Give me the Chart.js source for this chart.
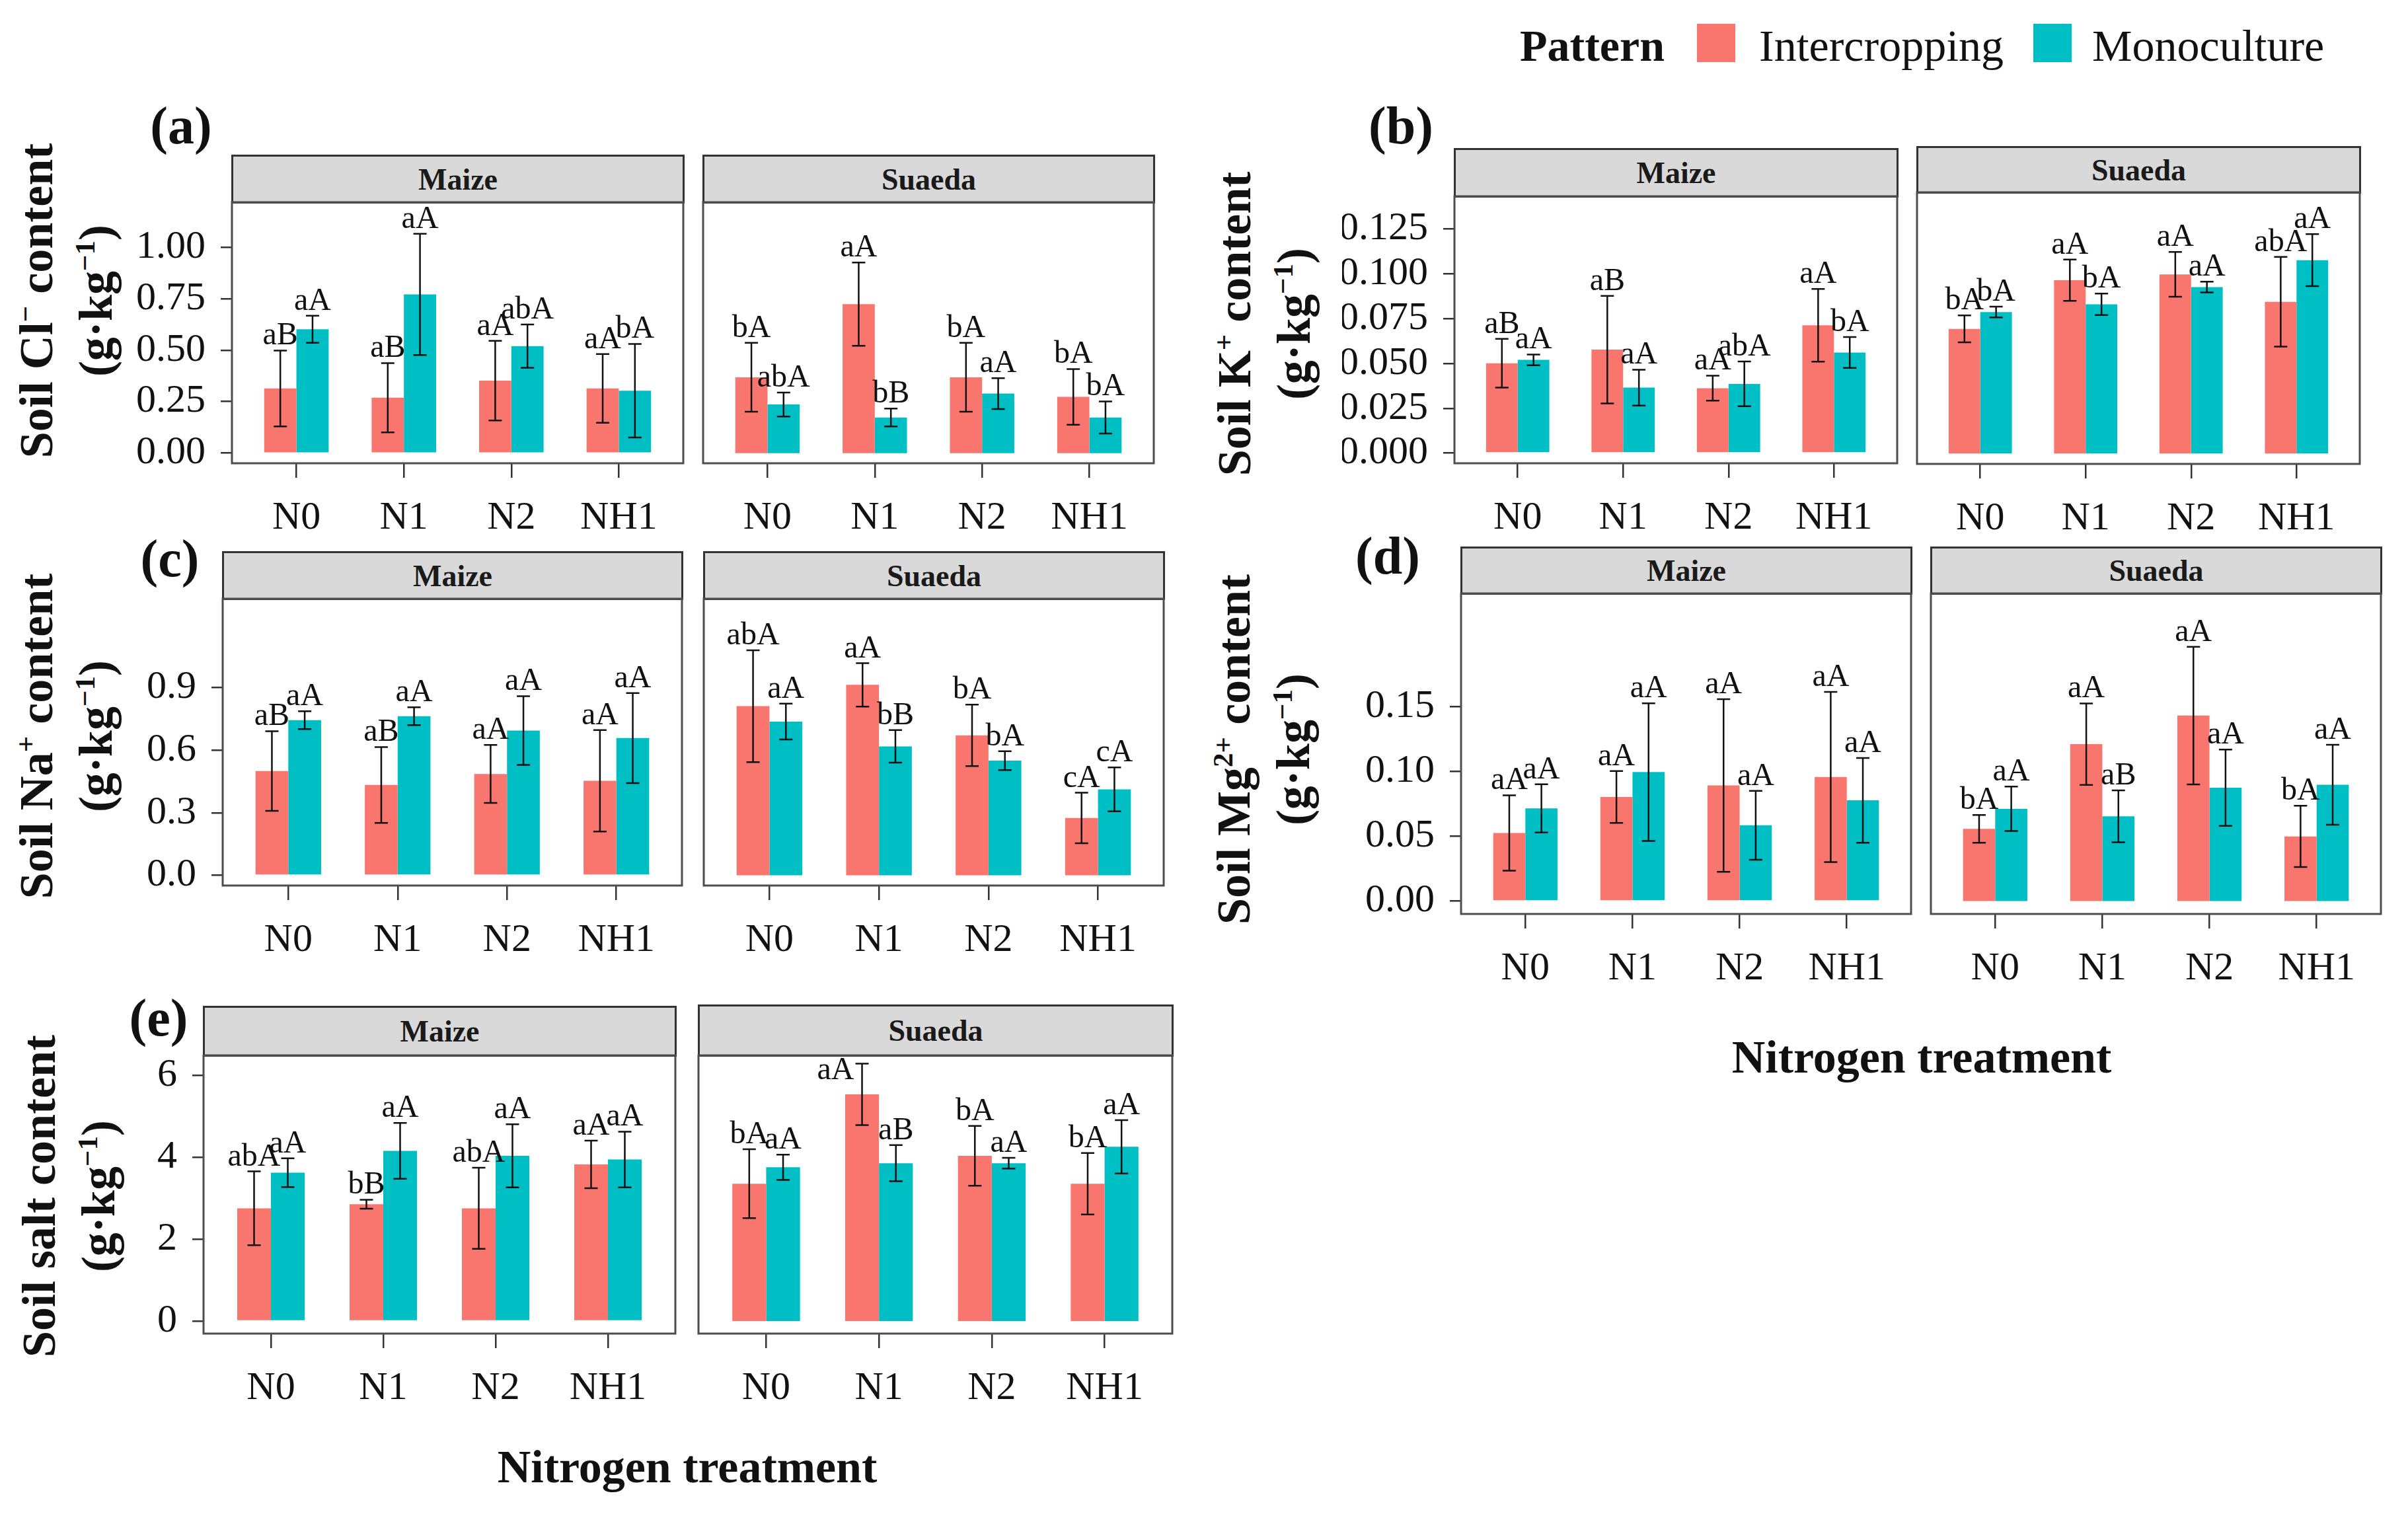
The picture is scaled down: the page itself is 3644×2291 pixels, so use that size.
<!DOCTYPE html>
<html><head><meta charset="utf-8">
<script src="https://cdn.jsdelivr.net/npm/chart.js@4.4.0/dist/chart.umd.min.js"></script>
<style>
body{margin:0;background:#fff;width:3644px;height:2291px;position:relative;overflow:hidden;font-family:"Liberation Serif","Times New Roman",serif;color:#111;}
canvas{position:absolute;}
.strip{position:absolute;box-sizing:border-box;background:#d9d9d9;border:3px solid #333;font-weight:bold;font-size:46px;display:flex;align-items:center;justify-content:center;color:#1a1a1a;}
.plab{position:absolute;font-weight:bold;font-size:80px;line-height:80px;transform:translate(-50%,-50%);white-space:nowrap;}
.ytitle{position:absolute;font-weight:bold;font-size:72px;line-height:90px;text-align:center;white-space:nowrap;transform:translate(-50%,-50%) rotate(-90deg);}
.ytitle sup{font-size:0.6em;line-height:0;vertical-align:0.6em;}
.xtitle{position:absolute;font-weight:bold;font-size:70px;line-height:70px;white-space:nowrap;transform:translate(-50%,-50%);}
.leg{position:absolute;font-size:68px;line-height:68px;white-space:nowrap;}
.key{position:absolute;width:58px;height:58px;}
</style></head>
<body>
<div id="root"></div>
<script>
// ---------------- DATA ----------------
const categories = ['N0', 'N1', 'N2', 'NH1'];
const seriesNames = ['Intercropping', 'Monoculture'];
const facetNames = ['Maize', 'Suaeda'];

// (a) Soil Cl- content
const clMaizeInt = [0.314, 0.269, 0.352, 0.314];
const clMaizeIntSE = [0.184, 0.168, 0.193, 0.167];
const clMaizeMono = [0.601, 0.770, 0.519, 0.303];
const clMaizeMonoSE = [0.066, 0.294, 0.105, 0.227];
const clMaizeIntLab = ['aB', 'aB', 'aA', 'aA'];
const clMaizeMonoLab = ['aA', 'aA', 'abA', 'bA'];
const clSuaedaInt = [0.368, 0.723, 0.368, 0.273];
const clSuaedaIntSE = [0.167, 0.202, 0.167, 0.135];
const clSuaedaMono = [0.236, 0.173, 0.289, 0.173];
const clSuaedaMonoSE = [0.058, 0.043, 0.075, 0.078];
const clSuaedaIntLab = ['bA', 'aA', 'bA', 'bA'];
const clSuaedaMonoLab = ['abA', 'bB', 'aA', 'bA'];
const clTicks = [0, 0.25, 0.5, 0.75, 1.0];

// (b) Soil K+ content
const kMaizeInt = [0.0501, 0.0577, 0.0362, 0.0713];
const kMaizeIntSE = [0.0136, 0.0300, 0.0070, 0.0203];
const kMaizeMono = [0.0520, 0.0365, 0.0386, 0.0561];
const kMaizeMonoSE = [0.0030, 0.0100, 0.0125, 0.0086];
const kMaizeIntLab = ['aB', 'aB', 'aA', 'aA'];
const kMaizeMonoLab = ['aA', 'aA', 'abA', 'bA'];
const kSuaedaInt = [0.0694, 0.0965, 0.0998, 0.0845];
const kSuaedaIntSE = [0.0075, 0.0115, 0.0125, 0.0250];
const kSuaedaMono = [0.0788, 0.0831, 0.0927, 0.1077];
const kSuaedaMonoSE = [0.0030, 0.0060, 0.0030, 0.0145];
const kSuaedaIntLab = ['bA', 'aA', 'aA', 'abA'];
const kSuaedaMonoLab = ['bA', 'bA', 'aA', 'aA'];
const kTicks = [0, 0.025, 0.05, 0.075, 0.1, 0.125];

// (c) Soil Na+ content
const naMaizeInt = [0.500, 0.433, 0.486, 0.453];
const naMaizeIntSE = [0.191, 0.182, 0.139, 0.243];
const naMaizeMono = [0.744, 0.763, 0.694, 0.658];
const naMaizeMonoSE = [0.043, 0.043, 0.165, 0.216];
const naMaizeIntLab = ['aB', 'aB', 'aA', 'aA'];
const naMaizeMonoLab = ['aA', 'aA', 'aA', 'aA'];
const naSuaedaInt = [0.811, 0.913, 0.671, 0.275];
const naSuaedaIntSE = [0.268, 0.104, 0.147, 0.121];
const naSuaedaMono = [0.737, 0.618, 0.550, 0.412];
const naSuaedaMonoSE = [0.086, 0.078, 0.045, 0.105];
const naSuaedaIntLab = ['abA', 'aA', 'bA', 'cA'];
const naSuaedaMonoLab = ['aA', 'bB', 'bA', 'cA'];
const naTicks = [0, 0.3, 0.6, 0.9];

// (d) Soil Mg2+ content
const mgMaizeInt = [0.0525, 0.0802, 0.0891, 0.0956];
const mgMaizeIntSE = [0.0290, 0.0200, 0.0665, 0.0656];
const mgMaizeMono = [0.0714, 0.0994, 0.0584, 0.0776];
const mgMaizeMonoSE = [0.0186, 0.0530, 0.0265, 0.0327];
const mgMaizeIntLab = ['aA', 'aA', 'aA', 'aA'];
const mgMaizeMonoLab = ['aA', 'aA', 'aA', 'aA'];
const mgSuaedaInt = [0.0556, 0.1209, 0.1429, 0.0498];
const mgSuaedaIntSE = [0.0107, 0.0314, 0.0530, 0.0236];
const mgSuaedaMono = [0.0711, 0.0653, 0.0873, 0.0896];
const mgSuaedaMonoSE = [0.0171, 0.0200, 0.0294, 0.0308];
const mgSuaedaIntLab = ['bA', 'aA', 'aA', 'bA'];
const mgSuaedaMonoLab = ['aA', 'aB', 'aA', 'aA'];
const mgTicks = [0, 0.05, 0.1, 0.15];

// (e) Soil salt content
const saltMaizeInt = [2.75, 2.85, 2.75, 3.82];
const saltMaizeIntSE = [0.90, 0.11, 0.99, 0.58];
const saltMaizeMono = [3.62, 4.15, 4.03, 3.94];
const saltMaizeMonoSE = [0.35, 0.68, 0.77, 0.68];
const saltMaizeIntLab = ['abA', 'bB', 'abA', 'aA'];
const saltMaizeMonoLab = ['aA', 'aA', 'aA', 'aA'];
const saltSuaedaInt = [3.35, 5.53, 4.03, 3.35];
const saltSuaedaIntSE = [0.84, 0.75, 0.73, 0.75];
const saltSuaedaMono = [3.75, 3.85, 3.85, 4.25];
const saltSuaedaMonoSE = [0.31, 0.44, 0.13, 0.65];
const saltSuaedaIntLab = ['bA', 'aA', 'bA', 'bA'];
const saltSuaedaMonoLab = ['aA', 'aB', 'aA', 'aA'];
const saltTicks = [0, 2, 4, 6];

// ---------------- PANEL DEFINITIONS ----------------
const panels = [
  {tag: '(a)', ticks: clTicks, dec: 2,
   facets: [[clMaizeInt, clMaizeIntSE, clMaizeIntLab, clMaizeMono, clMaizeMonoSE, clMaizeMonoLab],
            [clSuaedaInt, clSuaedaIntSE, clSuaedaIntLab, clSuaedaMono, clSuaedaMonoSE, clSuaedaMonoLab]]},
  {tag: '(b)', ticks: kTicks, dec: 3,
   facets: [[kMaizeInt, kMaizeIntSE, kMaizeIntLab, kMaizeMono, kMaizeMonoSE, kMaizeMonoLab],
            [kSuaedaInt, kSuaedaIntSE, kSuaedaIntLab, kSuaedaMono, kSuaedaMonoSE, kSuaedaMonoLab]]},
  {tag: '(c)', ticks: naTicks, dec: 1,
   facets: [[naMaizeInt, naMaizeIntSE, naMaizeIntLab, naMaizeMono, naMaizeMonoSE, naMaizeMonoLab],
            [naSuaedaInt, naSuaedaIntSE, naSuaedaIntLab, naSuaedaMono, naSuaedaMonoSE, naSuaedaMonoLab]]},
  {tag: '(d)', ticks: mgTicks, dec: 2,
   facets: [[mgMaizeInt, mgMaizeIntSE, mgMaizeIntLab, mgMaizeMono, mgMaizeMonoSE, mgMaizeMonoLab],
            [mgSuaedaInt, mgSuaedaIntSE, mgSuaedaIntLab, mgSuaedaMono, mgSuaedaMonoSE, mgSuaedaMonoLab]]},
  {tag: '(e)', ticks: saltTicks, dec: 0,
   facets: [[saltMaizeInt, saltMaizeIntSE, saltMaizeIntLab, saltMaizeMono, saltMaizeMonoSE, saltMaizeMonoLab],
            [saltSuaedaInt, saltSuaedaIntSE, saltSuaedaIntLab, saltSuaedaMono, saltSuaedaMonoSE, saltSuaedaMonoLab]]}
];

// ---------------- LAYOUT (positions / styling only) ----------------
const layout = [
  {lab: [274, 190], yt: [100, 455], title: 'Soil Cl<sup>−</sup> content',
   boxes: [{l: 351, r: 1034, st: 234, t: 306, b: 701, range: [-0.049, 1.2175]},
           {l: 1064, r: 1746, st: 234, t: 306, b: 701, range: [-0.049, 1.2175]}]},
  {lab: [2120, 190], yt: [1913, 490], title: 'Soil K<sup>+</sup> content',
   boxes: [{l: 2201, r: 2871, st: 224, t: 297, b: 701, range: [-0.0057, 0.1433]},
           {l: 2901, r: 3571, st: 221, t: 291, b: 702, range: [-0.0058, 0.1455]}]},
  {lab: [257, 845], yt: [100, 1114], title: 'Soil Na<sup>+</sup> content',
   boxes: [{l: 337, r: 1032, st: 834, t: 906, b: 1340, range: [-0.049, 1.326]},
           {l: 1065, r: 1761, st: 834, t: 906, b: 1340, range: [-0.049, 1.326]}]},
  {lab: [2100, 841], yt: [1912, 1134], title: 'Soil Mg<sup>2+</sup> content',
   boxes: [{l: 2211, r: 2892, st: 827, t: 898, b: 1383, range: [-0.0099, 0.237]},
           {l: 2922, r: 3603, st: 827, t: 898, b: 1383, range: [-0.0099, 0.237]}]},
  {lab: [240, 1540], yt: [104, 1810], title: 'Soil salt content',
   boxes: [{l: 308, r: 1022, st: 1522, t: 1597, b: 2018, range: [-0.306, 6.48]},
           {l: 1057, r: 1774, st: 1520, t: 1597, b: 2018, range: [-0.306, 6.48]}]}
];

const COLORS = ['#F8766D', '#00BFC4'];
const FONT = '"Liberation Serif", "Times New Roman", serif';
const LPAD = 170, BPAD = 130, PAD = 4;
const LABEL_SIZE = 48;

const errPlugin = {
  id: 'errbars',
  afterDatasetsDraw(chart) {
    const ctx = chart.ctx, ys = chart.scales.y, area = chart.chartArea;
    chart.data.datasets.forEach((ds, di) => {
      const meta = chart.getDatasetMeta(di);
      meta.data.forEach((bar, i) => {
        const m = ds.data[i].y, se = ds.se[i];
        const x = bar.x;
        const yt = ys.getPixelForValue(m + se), yb = ys.getPixelForValue(m - se);
        ctx.save();
        ctx.strokeStyle = '#111';
        ctx.lineWidth = 2.5;
        ctx.beginPath();
        ctx.moveTo(x, yt); ctx.lineTo(x, yb);
        ctx.moveTo(x - 10, yt); ctx.lineTo(x + 10, yt);
        ctx.moveTo(x - 10, yb); ctx.lineTo(x + 10, yb);
        ctx.stroke();
        ctx.font = LABEL_SIZE + 'px ' + FONT;
        ctx.fillStyle = '#111';
        ctx.textBaseline = 'alphabetic';
        const capH = LABEL_SIZE * 0.66;
        if (yt - 9 - capH < area.top + 2) {
          // no room above: put letters beside the top of the error bar
          ctx.textAlign = 'right';
          ctx.fillText(ds.letters[i], x - 12, yt + capH * 0.75);
        } else {
          ctx.textAlign = 'center';
          ctx.fillText(ds.letters[i], x, yt - 9);
        }
        ctx.restore();
      });
    });
    ctx.save();
    ctx.strokeStyle = '#4d4d4d';
    ctx.lineWidth = 3;
    ctx.strokeRect(area.left, area.top, area.right - area.left, area.bottom - area.top);
    ctx.restore();
  }
};

const root = document.getElementById('root');
function addDiv(cls, html, style) {
  const d = document.createElement('div');
  d.className = cls; d.innerHTML = html;
  Object.assign(d.style, style);
  root.appendChild(d);
  return d;
}

panels.forEach((p, pi) => {
  const L = layout[pi];
  addDiv('plab', p.tag, {left: L.lab[0] + 'px', top: L.lab[1] + 'px'});
  addDiv('ytitle', L.title + '<br>(g·kg<sup>−1</sup>)', {left: L.yt[0] + 'px', top: L.yt[1] + 'px'});
  p.facets.forEach((f, fi) => {
    const bx = L.boxes[fi];
    const isLeft = fi === 0;
    addDiv('strip', facetNames[fi], {left: (bx.l - 1) + 'px', top: bx.st + 'px', width: (bx.r - bx.l + 3) + 'px', height: (bx.t - bx.st + 2) + 'px'});
    const cv = document.createElement('canvas');
    const left = isLeft ? bx.l - LPAD : bx.l - PAD;
    const w = (bx.r - bx.l) + (isLeft ? LPAD : PAD) + PAD;
    const h = (bx.b - bx.t) + PAD + BPAD;
    cv.width = w; cv.height = h;
    cv.style.left = left + 'px'; cv.style.top = (bx.t - PAD) + 'px';
    cv.style.width = w + 'px'; cv.style.height = h + 'px';
    root.appendChild(cv);
    const [iv, ise, ilab, mv, mse, mlab] = f;
    new Chart(cv, {
      type: 'bar',
      data: {
        datasets: [
          {label: seriesNames[0], data: iv.map((v, i) => ({x: i, y: v})), se: ise, letters: ilab, backgroundColor: COLORS[0]},
          {label: seriesNames[1], data: mv.map((v, i) => ({x: i, y: v})), se: mse, letters: mlab, backgroundColor: COLORS[1]}
        ]
      },
      options: {
        responsive: false, animation: false, devicePixelRatio: 1,
        layout: {padding: {top: PAD, right: PAD, left: isLeft ? 0 : PAD, bottom: 0}},
        plugins: {legend: {display: false}, tooltip: {enabled: false}},
        datasets: {bar: {categoryPercentage: 0.6, barPercentage: 1.0}},
        scales: {
          x: {
            type: 'linear', bounds: 'data', min: -0.6, max: 3.6, offset: false,
            afterBuildTicks: s => { s.ticks = categories.map((c, i) => ({value: i})); },
            afterFit: s => { s.height = BPAD; s.paddingLeft = 0; s.paddingRight = 0; s.paddingTop = 0; s.paddingBottom = 0; },
            ticks: {callback: v => categories[v], font: {family: FONT, size: 60}, color: '#111', padding: 25, maxRotation: 0, autoSkip: false},
            grid: {offset: false, drawOnChartArea: false, drawTicks: true, tickLength: 22, color: '#333', lineWidth: 2.5},
            border: {display: false}
          },
          y: {
            display: isLeft, bounds: 'data', min: bx.range[0], max: bx.range[1],
            afterBuildTicks: s => { s.ticks = p.ticks.map(v => ({value: v})); },
            afterFit: s => { s.width = isLeft ? LPAD : 0; s.paddingLeft = 0; s.paddingRight = 0; s.paddingTop = 0; s.paddingBottom = 0; },
            ticks: {callback: v => Number(v).toFixed(p.dec), font: {family: FONT, size: 60}, color: '#111', padding: 23, autoSkip: false},
            grid: {drawOnChartArea: false, drawTicks: true, tickLength: 17, color: '#333', lineWidth: 2.5},
            border: {display: false}
          }
        }
      },
      plugins: [errPlugin]
    });
  });
});

// axis titles
addDiv('xtitle', 'Nitrogen treatment', {left: '1040px', top: '2220px'});
addDiv('xtitle', 'Nitrogen treatment', {left: '2908px', top: '1600px'});

// legend
addDiv('leg', '<b>Pattern</b>', {left: '2300px', top: '35px'});
addDiv('key', '', {left: '2568px', top: '36px', background: COLORS[0]});
addDiv('leg', seriesNames[0], {left: '2662px', top: '35px'});
addDiv('key', '', {left: '3077px', top: '36px', background: COLORS[1]});
addDiv('leg', seriesNames[1], {left: '3166px', top: '35px'});
</script>
</body></html>
